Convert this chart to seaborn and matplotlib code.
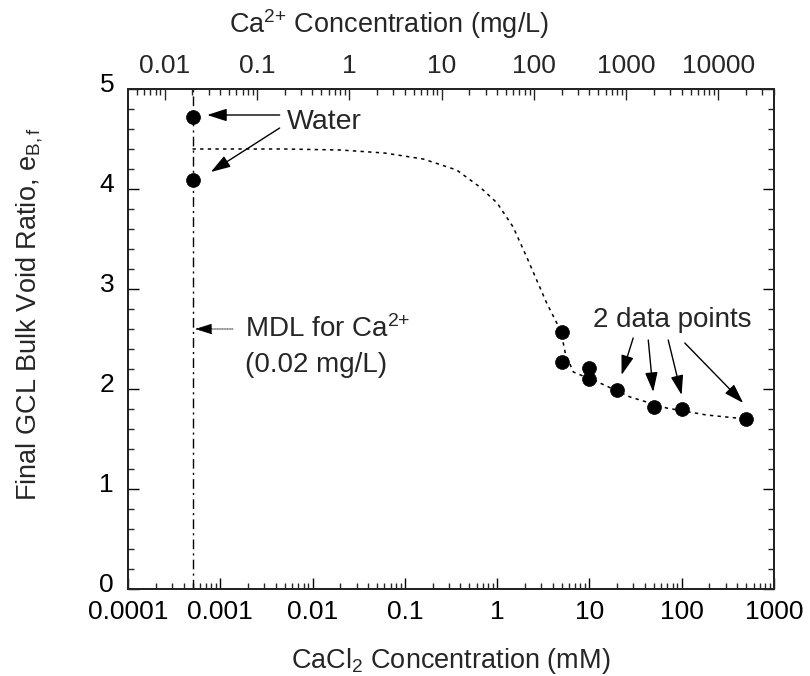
import matplotlib
matplotlib.use("Agg")
import matplotlib.pyplot as plt
import matplotlib.ticker as mticker
import matplotlib.transforms as mtransforms
import seaborn as sns
import pandas as pd

# ---- data ----
point_mM = [0.0005, 0.0005, 5, 5, 10, 10, 20, 50, 100, 500]
point_e = [4.72, 4.09, 2.57, 2.27, 2.21, 2.10, 1.99, 1.82, 1.80, 1.70]

trend_mM = [0.0005, 0.005, 0.02, 0.06, 0.158, 0.364, 0.65, 1.0, 1.49, 2.09,
            2.68, 3.44, 4.9, 5.5, 6.7, 13, 27.6, 68.5, 186, 500]
trend_e = [4.40, 4.40, 4.39, 4.36, 4.30, 4.19, 4.02, 3.86, 3.62, 3.32,
           3.09, 2.86, 2.58, 2.35, 2.17, 2.06, 1.92, 1.81, 1.74, 1.70]

mdl_mM = 0.0005
bottom_ticks = [0.0001, 0.001, 0.01, 0.1, 1, 10, 100, 1000]
top_ticks = [0.01, 0.1, 1, 10, 100, 1000, 10000]
y_ticks = [0, 1, 2, 3, 4, 5]
CA_MG_PER_MMOL = 40.08

pts = pd.DataFrame({"mM": point_mM, "e": point_e})
trend = pd.DataFrame({"mM": trend_mM, "e": trend_e})

sns.set_theme(style="ticks")
plt.rcParams["font.family"] = ["Liberation Sans", "DejaVu Sans"]
plt.rcParams["mathtext.fontset"] = "custom"
plt.rcParams["mathtext.rm"] = "Liberation Sans"
plt.rcParams["mathtext.it"] = "Liberation Sans:italic"
plt.rcParams["mathtext.bf"] = "Liberation Sans:bold"

fig = plt.figure(figsize=(8.1, 6.76), dpi=100)
ax = fig.add_axes([128 / 810, 1 - 589 / 676, (774 - 128) / 810, (589 - 89) / 676])

ax.axvline(mdl_mM, color="black", lw=1.0, linestyle=(0, (7, 3, 1.5, 3)), zorder=1)
sns.lineplot(data=trend, x="mM", y="e", ax=ax, sort=False, estimator=None,
             color="black", lw=1.1, linestyle=(0, (2.2, 2.8)), zorder=2)
sns.scatterplot(data=pts, x="mM", y="e", ax=ax, color="black", s=100,
                edgecolor="black", linewidth=0.5, zorder=3)

ax.set_xscale("log")
ax.set_xlim(1e-4, 1e3)
ax.set_ylim(0, 5)

fmt = mticker.FuncFormatter(lambda v, p: f"{v:g}")
ax.xaxis.set_major_locator(mticker.FixedLocator(bottom_ticks))
ax.xaxis.set_major_formatter(fmt)
ax.xaxis.set_minor_locator(mticker.LogLocator(base=10, subs=range(2, 10), numticks=30))
ax.xaxis.set_minor_formatter(mticker.NullFormatter())
ax.yaxis.set_major_locator(mticker.FixedLocator(y_ticks))
ax.yaxis.set_minor_locator(mticker.MultipleLocator(0.2))

ax.tick_params(axis="both", which="major", direction="in", length=8, width=1,
               labelsize=19, colors="black")
ax.tick_params(axis="both", which="minor", direction="in", length=4.5, width=1)
ax.tick_params(axis="y", which="both", right=True)
ax.tick_params(axis="x", which="major", pad=8)
ax.tick_params(axis="y", which="major", pad=10)

shift_up = mtransforms.ScaledTranslation(0, 0.06, fig.dpi_scale_trans)
for lab in ax.get_yticklabels():
    lab.set_transform(lab.get_transform() + shift_up)

for s in ax.spines.values():
    s.set_linewidth(1.3)
    s.set_color("black")

ax.set_xlabel(r"CaCl$_2$ Concentration (mM)", fontsize=19.5)
ax.xaxis.set_label_coords(0.5, -0.115)
ax.set_ylabel(r"Final GCL Bulk Void Ratio, e$_{\mathrm{B,f}}$", fontsize=19.5)
ax.yaxis.set_label_coords(-0.128, 0.55)

ax2 = ax.twiny()
ax2.set_xscale("log")
ax2.set_xlim(1e-4 * CA_MG_PER_MMOL, 1e3 * CA_MG_PER_MMOL)
ax2.xaxis.set_major_locator(mticker.FixedLocator(top_ticks))
ax2.xaxis.set_major_formatter(fmt)
ax2.xaxis.set_minor_locator(mticker.LogLocator(base=10, subs=range(2, 10), numticks=30))
ax2.xaxis.set_minor_formatter(mticker.NullFormatter())
ax2.tick_params(axis="x", which="major", direction="in", length=8, width=1,
                labelsize=19, pad=8)
ax2.tick_params(axis="x", which="minor", direction="in", length=4.5, width=1)
for s in ax2.spines.values():
    s.set_linewidth(1.3)
ax2.set_xlabel(r"Ca$^{2{+}}$ Concentration (mg/L)", fontsize=19.5)
ax2.xaxis.set_label_coords(0.404, 1.112)

arrow_kw = dict(arrowstyle="-|>,head_length=1.0,head_width=0.32", color="black",
                lw=1.0, shrinkA=0, shrinkB=0)

ax.text(0.00528, 4.67, "Water", fontsize=20.5, va="center", ha="left")
ax.annotate("", xy=(0.00072, 4.74), xytext=(0.0044, 4.74), arrowprops=arrow_kw)
ax.annotate("", xy=(0.00079, 4.17), xytext=(0.0044, 4.61), arrowprops=arrow_kw)

ax.text(0.00185, 2.60, r"MDL for Ca$^{2{+}}$", fontsize=20, va="center", ha="left")
ax.text(0.00185, 2.24, "(0.02 mg/L)", fontsize=20, va="center", ha="left")
ax.annotate("", xy=(0.00053, 2.60), xytext=(0.00137, 2.60),
            arrowprops=dict(arrowstyle="-|>,head_length=0.9,head_width=0.28",
                            color="black", lw=0.6, linestyle=(0, (1, 1)),
                            shrinkA=0, shrinkB=0))

ax.text(10.9, 2.69, "2 data points", fontsize=20, va="center", ha="left")
for tail, head in [((29.8, 2.51), (22.3, 2.14)),
                   ((43.4, 2.49), (49.1, 1.97)),
                   ((71.4, 2.49), (99.8, 1.94)),
                   ((108, 2.46), (464, 1.86))]:
    ax.annotate("", xy=head, xytext=tail, arrowprops=arrow_kw)

fig.savefig("out.png", dpi=100, facecolor="white")
